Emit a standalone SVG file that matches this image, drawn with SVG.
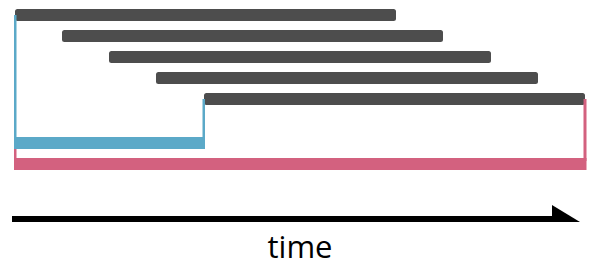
<svg xmlns="http://www.w3.org/2000/svg" width="600" height="270" viewBox="0 0 600 270">
  <style>
    .bar { fill: #4d4d4d; }
    .blue { fill: #5ba9c8; }
    .pink { fill: #d3617f; }
    .label { font-family: "Open Sans", "Liberation Sans", sans-serif; font-size: 31px; fill: #000; }
  </style>
  <rect width="600" height="270" fill="#ffffff"/>
  <g id="bars">
    <rect id="bar1" class="bar" x="15" y="9" width="381" height="12" rx="2.5"/>
    <rect id="bar2" class="bar" x="62" y="30" width="381" height="12" rx="2.5"/>
    <rect id="bar3" class="bar" x="109" y="51" width="382" height="12" rx="2.5"/>
    <rect id="bar4" class="bar" x="156" y="72" width="382" height="12" rx="2.5"/>
    <rect id="bar5" class="bar" x="204" y="93" width="381" height="12" rx="2.5"/>
  </g>
  <g id="pink-bracket">
    <rect class="pink" x="14" y="148" width="2.5" height="12"/>
    <rect class="pink" x="583.5" y="99" width="3" height="62"/>
    <rect class="pink" x="14" y="158" width="572.5" height="12"/>
  </g>
  <g id="blue-bracket">
    <rect class="blue" x="14" y="15" width="2.5" height="125"/>
    <rect class="blue" x="202.5" y="99" width="2.5" height="40"/>
    <rect class="blue" x="14" y="137" width="191" height="12"/>
  </g>
  <g id="connectors">
    <rect x="12" y="216" width="542" height="6" fill="#000"/>
    <polygon points="552,205 580,222 552,222" fill="#000"/>
  </g>
  <text class="label" x="300" y="258" text-anchor="middle">time</text>
</svg>
